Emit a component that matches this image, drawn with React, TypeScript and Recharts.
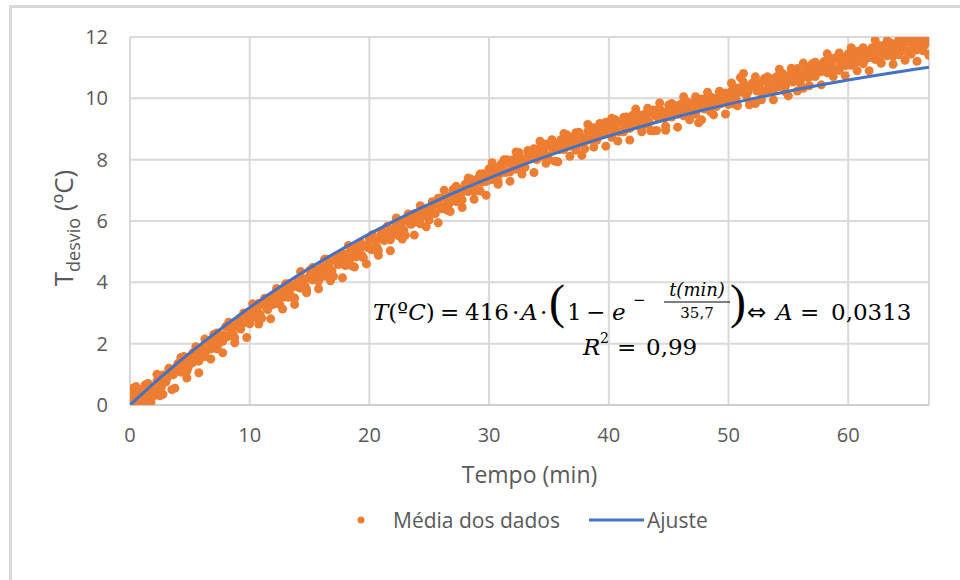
import React from "react";
import {
  ComposedChart,
  Scatter,
  XAxis,
  YAxis,
  CartesianGrid,
  Legend,
} from "recharts";

// Sampling grids of the averaged data (min)
const mediaStep = 0.25;
const mediaOffsetB = 0.125;
const mediaStepC = 0.5;
const mediaOffsetC = 0.25;

// "Média dos dados" – temperature deviation (ºC).
// Series A: readings at t = 0, 0.25, 0.5, ...
const mediaA0to10 = [
  0.3, 0.05, 0.6, 0.2, 0.5, 0.1, 0.7, 0.45,
  0.3, 0.78, 0.3, 0.98, 0.75, 1.18, 0.5, 1.18,
  1.35, 1.07, 1.58, 1.1, 1.5, 1.38, 1.9, 1.43,
  1.85, 1.58, 2.1, 1.83, 2.3, 1.83, 2.2, 2.08,
  2.55, 2.26, 2.58, 2.19, 2.75, 2.48, 3.0, 2.73,
];
const mediaA10to20 = [
  2.65, 3.12, 2.89, 3.31, 2.83, 3.29, 3.11, 3.53,
  3.3, 3.71, 3.28, 3.74, 3.95, 3.51, 3.83, 3.49,
  4.1, 3.81, 4.11, 3.77, 4.38, 4.08, 4.39, 4.04,
  4.5, 4.2, 4.75, 4.4, 4.2, 4.8, 4.6, 4.95,
  4.55, 4.95, 4.55, 5.15, 4.85, 5.2, 4.8, 5.2,
];
const mediaA20to30 = [
  5.4, 5.06, 5.38, 5.04, 5.6, 5.36, 5.83, 5.39,
  5.55, 5.91, 5.51, 5.97, 5.53, 6.18, 5.89, 6.24,
  6.25, 5.91, 6.41, 6.17, 6.03, 6.48, 6.24, 6.74,
  6.4, 6.81, 6.36, 6.82, 7.03, 6.63, 6.94, 6.69,
  7.2, 6.96, 7.36, 6.97, 7.33, 6.98, 7.54, 7.29,
];
const mediaA30to40 = [
  7.7, 7.35, 7.65, 7.3, 7.85, 7.6, 8.0, 7.6,
  8.0, 7.69, 8.23, 7.86, 7.75, 8.24, 8.03, 8.36,
  8.0, 8.39, 8.13, 8.51, 8.0, 8.49, 7.95, 8.51,
  8.65, 8.33, 8.81, 8.44, 8.73, 8.31, 8.89, 8.62,
  8.35, 8.93, 8.66, 9.04, 8.63, 9.01, 8.84, 9.22,
];
const mediaA40to50 = [
  9.15, 8.73, 9.31, 8.94, 9.23, 8.91, 9.39, 9.02,
  9.45, 9.13, 9.46, 8.99, 9.48, 9.16, 8.94, 9.62,
  8.95, 9.67, 9.39, 8.96, 9.78, 9.39, 9.76, 9.48,
  9.8, 9.43, 9.9, 9.58, 9.85, 9.48, 9.2, 9.98,
  9.65, 10.03, 9.56, 9.99, 9.73, 10.21, 9.89, 10.17,
];
const mediaA50to60 = [
  9.8, 10.23, 9.81, 10.34, 10.68, 10.81, 10.09, 9.82,
  10.5, 9.83, 10.5, 10.18, 10.65, 10.28, 10.65, 10.23,
  10.7, 10.38, 10.81, 10.39, 10.08, 10.86, 10.59, 10.97,
  10.5, 10.33, 11.01, 10.69, 11.13, 10.71, 11.09, 10.87,
  11.2, 10.83, 11.31, 10.99, 11.33, 10.91, 11.34, 11.07,
];
const mediaA60toEnd = [
  11.45, 11.08, 11.55, 11.18, 11.55, 11.13, 11.55, 11.33,
  11.65, 11.27, 11.74, 11.16, 11.73, 11.39, 11.81, 11.38,
  11.8, 11.42, 11.89, 11.56, 11.88, 11.44, 11.91, 11.58,
  11.95, 11.55, 11.85, 11.4,
];

// Series B: readings at t = 0.125, 0.375, ... (band core)
const mediaB0to10 = [
  0.28, 0.18, 0.43, 0.23, 0.43, 0.28, 0.58, 0.53,
  0.49, 0.77, 0.59, 0.87, 0.89, 1.12, 0.99, 1.22,
  1.24, 1.15, 1.42, 1.23, 1.59, 1.47, 1.69, 1.57,
  1.84, 1.77, 2.04, 1.87, 2.09, 1.97, 2.29, 2.27,
  2.23, 2.5, 2.31, 2.57, 2.59, 2.82, 2.69, 2.92,
];
const mediaB10to20 = [
  2.94, 2.86, 3.13, 2.95, 3.31, 3.18, 3.4, 3.27,
  3.53, 3.45, 3.71, 3.52, 3.73, 3.6, 3.91, 3.87,
  3.83, 4.09, 3.89, 4.15, 4.16, 4.36, 4.22, 4.42,
  4.43, 4.33, 4.58, 4.38, 4.73, 4.58, 4.78, 4.63,
  4.88, 4.78, 5.03, 4.83, 5.03, 4.88, 5.18, 5.13,
];
const mediaB20to30 = [
  5.08, 5.35, 5.16, 5.42, 5.43, 5.65, 5.51, 5.72,
  5.73, 5.64, 5.89, 5.7, 6.06, 5.91, 6.12, 5.97,
  6.23, 6.14, 6.39, 6.2, 6.41, 6.26, 6.57, 6.52,
  6.48, 6.74, 6.54, 6.8, 6.81, 7.01, 6.87, 7.07,
  7.08, 6.99, 7.24, 7.05, 7.41, 7.26, 7.47, 7.32,
];
const mediaB30to40 = [
  7.58, 7.48, 7.73, 7.53, 7.73, 7.58, 7.88, 7.83,
  7.77, 8.01, 7.8, 8.03, 8.02, 8.21, 8.05, 8.23,
  8.22, 8.11, 8.35, 8.13, 8.47, 8.31, 8.5, 8.33,
  8.57, 8.45, 8.68, 8.46, 8.65, 8.48, 8.76, 8.69,
  8.62, 8.85, 8.63, 8.86, 8.85, 9.03, 8.86, 9.04,
];
const mediaB40to50 = [
  9.02, 8.9, 9.13, 8.91, 9.25, 9.08, 9.26, 9.09,
  9.32, 9.2, 9.43, 9.21, 9.4, 9.23, 9.51, 9.44,
  9.36, 9.58, 9.35, 9.57, 9.54, 9.7, 9.52, 9.69,
  9.67, 9.54, 9.77, 9.54, 9.87, 9.69, 9.87, 9.69,
  9.92, 9.8, 10.03, 9.81, 10.0, 9.83, 10.11, 10.04,
];
const mediaB50to60 = [
  9.97, 10.2, 9.98, 10.21, 10.2, 10.38, 10.21, 10.39,
  10.37, 10.24, 10.47, 10.24, 10.57, 10.39, 10.57, 10.39,
  10.62, 10.5, 10.73, 10.51, 10.7, 10.53, 10.81, 10.74,
  10.67, 10.9, 10.68, 10.91, 10.9, 11.08, 10.91, 11.09,
  11.07, 10.95, 11.18, 10.96, 11.3, 11.13, 11.31, 11.14,
];
const mediaB60toEnd = [
  11.37, 11.24, 11.47, 11.24, 11.42, 11.24, 11.52, 11.44,
  11.36, 11.58, 11.35, 11.57, 11.54, 11.7, 11.52, 11.69,
  11.66, 11.53, 11.75, 11.52, 11.84, 11.65, 11.82, 11.64,
  11.86, 11.73, 11.94,
];

// Series C: band edge readings at t = 0.25, 0.75, 1.25, ...
const mediaC0to20 = [
  0.55, 0.02, 0.65, 0.08, 1.0, 0.35, 1.2, 0.55,
  1.55, 0.88, 1.7, 1.05, 2.15, 1.5, 2.35, 1.7,
  2.7, 2.03, 2.85, 2.2, 3.3, 2.64, 3.48, 2.81,
  3.8, 3.13, 3.95, 3.28, 4.35, 3.66, 4.48, 3.79,
  4.75, 4.05, 4.85, 4.15, 5.2, 4.5, 5.3, 4.6,
];
const mediaC20to40 = [
  5.55, 4.88, 5.7, 5.03, 6.1, 5.41, 6.23, 5.54,
  6.5, 5.81, 6.63, 5.94, 7.0, 6.31, 7.13, 6.44,
  7.4, 6.71, 7.53, 6.84, 7.9, 7.2, 8.0, 7.3,
  8.25, 7.53, 8.3, 7.58, 8.6, 7.88, 8.65, 7.93,
  8.85, 8.11, 8.88, 8.14, 9.15, 8.41, 9.18, 8.44,
];
const mediaC40to60 = [
  9.35, 8.61, 9.38, 8.64, 9.65, 8.91, 9.68, 8.94,
  9.85, 9.09, 9.83, 9.06, 10.05, 9.3, 10.05, 9.3,
  10.2, 9.46, 10.23, 9.49, 10.5, 9.76, 10.53, 9.79,
  10.7, 9.95, 10.7, 9.95, 10.95, 10.21, 10.98, 10.24,
  11.15, 10.41, 11.18, 10.44, 11.45, 10.71, 11.48, 10.74,
];
const mediaC60toEnd = [
  11.65, 10.9, 11.65, 10.9, 11.9, 11.14, 11.88, 11.11,
  12.0, 11.24, 11.98, 11.21, 11.98, 11.43,
];

// "Ajuste" – fitted curve, read every 2 min
const ajusteTempo = [
  0, 2, 4, 6, 8, 10, 12, 14, 16, 18, 20, 22, 24, 26, 28, 30, 32, 34,
  36, 38, 40, 42, 44, 46, 48, 50, 52, 54, 56, 58, 60, 62, 64, 66, 66.75,
];
const ajusteValores = [
  0, 0.71, 1.38, 2.01, 2.61, 3.18, 3.72, 4.22, 4.7, 5.15, 5.58, 5.99, 6.37,
  6.73, 7.08, 7.4, 7.71, 8.0, 8.27, 8.53, 8.77, 9.0, 9.22, 9.43, 9.63, 9.81,
  9.99, 10.15, 10.31, 10.46, 10.6, 10.73, 10.85, 10.97, 11.01,
];

const xTicks = [0, 10, 20, 30, 40, 50, 60];
const yTicks = [0, 2, 4, 6, 8, 10, 12];
const xMax = 66.75;

const mediaA = [
  ...mediaA0to10, ...mediaA10to20, ...mediaA20to30, ...mediaA30to40,
  ...mediaA40to50, ...mediaA50to60, ...mediaA60toEnd,
];
const mediaB = [
  ...mediaB0to10, ...mediaB10to20, ...mediaB20to30, ...mediaB30to40,
  ...mediaB40to50, ...mediaB50to60, ...mediaB60toEnd,
];
const mediaC = [...mediaC0to20, ...mediaC20to40, ...mediaC40to60, ...mediaC60toEnd];
const mediaData = [
  ...mediaC.map((v, i) => ({ t: i * mediaStepC + mediaOffsetC, v })),
  ...mediaA.map((v, i) => ({ t: i * mediaStep, v })),
  ...mediaB.map((v, i) => ({ t: i * mediaStep + mediaOffsetB, v })),
];
const ajusteData = ajusteTempo.map((t, i) => ({ t, v: ajusteValores[i] }));

const ORANGE = "#ED7D31";
const BLUE = "#4472C4";
const TEXT = "#595959";
const GRID = "#d9d9d9";
const FONT = "'Open Sans', sans-serif";
const MATH = "'DejaVu Serif', 'Liberation Serif', serif";
const PAREN = "'Liberation Serif', serif";

const Dot = (props: any) => {
  const { cx, cy } = props;
  if (cx == null || cy == null) return null;
  return <circle cx={cx} cy={cy} r={4.5} fill={ORANGE} />;
};
const NoDot = () => <g />;

const LegendContent = () => (
  <div
    style={{
      position: "relative",
      height: 30,
      width: 960,
      fontFamily: FONT,
      fontSize: 21,
      color: TEXT,
      lineHeight: "30px",
    }}
  >
    <svg width={14} height={14} style={{ position: "absolute", left: 354, top: 8 }}>
      <circle cx={7} cy={7} r={3.5} fill={ORANGE} />
    </svg>
    <span style={{ position: "absolute", left: 393, top: 0, whiteSpace: "nowrap" }}>
      Média dos dados
    </span>
    <svg width={56} height={10} style={{ position: "absolute", left: 589, top: 10 }}>
      <line x1={0} y1={5} x2={55} y2={5} stroke={BLUE} strokeWidth={3} />
    </svg>
    <span style={{ position: "absolute", left: 647, top: 0 }}>Ajuste</span>
  </div>
);

const YTitle = () => (
  <text
    transform="translate(73, 228) rotate(-90)"
    textAnchor="middle"
    fontFamily={FONT}
    fontSize={26}
    fill={TEXT}
  >
    <tspan>T</tspan>
    <tspan fontSize={18} dy={7}>desvio</tspan>
    <tspan dy={-7}> (ºC)</tspan>
  </text>
);

const Equation = () => (
  <g fontFamily={MATH} fill="#000" fontSize={23}>
    <text x={373} y={320}>
      <tspan fontStyle="italic">T</tspan>
      <tspan>(º</tspan>
      <tspan fontStyle="italic">C</tspan>
      <tspan>)</tspan>
    </text>
    <text x={440} y={320}>=</text>
    <text x={465} y={320}>416</text>
    <text x={512} y={320}>·</text>
    <text x={521} y={320} fontStyle="italic">A</text>
    <text x={540} y={320}>·</text>
    <text x={549} y={318} fontSize={48} fontFamily={PAREN}>(</text>
    <text x={567} y={320}>1</text>
    <text x={586} y={320}>−</text>
    <text x={612} y={320} fontStyle="italic">e</text>
    <text x={633} y={305} fontSize={15}>−</text>
    <text x={697} y={296} fontSize={18} textAnchor="middle" fontStyle="italic">
      t(min)
    </text>
    <line x1={664} y1={302} x2={730} y2={302} stroke="#000" strokeWidth={1.2} />
    <text x={697} y={318} fontSize={15} textAnchor="middle">35,7</text>
    <text x={730} y={318} fontSize={48} fontFamily={PAREN}>)</text>
    <text x={747} y={320} fontFamily="'DejaVu Sans', sans-serif" fontSize={23}>⇔</text>
    <text x={776} y={320} fontStyle="italic">A</text>
    <text x={800} y={320}>=</text>
    <text x={831} y={320}>0,0313</text>
    <text x={583} y={355} fontStyle="italic">R</text>
    <text x={600} y={343} fontSize={14}>2</text>
    <text x={617} y={355}>=</text>
    <text x={646} y={355}>0,99</text>
  </g>
);

export default function App() {
  return (
    <div
      style={{
        position: "absolute",
        left: 0,
        top: 0,
        width: 960,
        height: 580,
        overflow: "hidden",
        background: "#fff",
      }}
    >
      <div
        style={{
          position: "absolute",
          left: 9,
          top: 5,
          width: 1000,
          height: 700,
          borderTop: `3px solid ${GRID}`,
          borderLeft: `3px solid ${GRID}`,
        }}
      />
      <div style={{ position: "absolute", left: 0, top: 0 }}>
        <ComposedChart
          width={960}
          height={580}
          margin={{ top: 37, right: 31, left: 0, bottom: 65 }}
        >
          <CartesianGrid stroke={GRID} strokeWidth={2} />
          <XAxis
            dataKey="t"
            type="number"
            domain={[0, xMax]}
            ticks={xTicks}
            allowDataOverflow
            height={80}
            tickSize={0}
            tickMargin={23}
            tick={{ fill: TEXT, fontSize: 20, fontFamily: FONT }}
            axisLine={{ stroke: "#cfcfcf", strokeWidth: 2 }}
            label={{
              value: "Tempo (min)",
              position: "insideBottom",
              offset: 2,
              fill: TEXT,
              fontSize: 23,
              fontFamily: FONT,
            }}
          />
          <YAxis
            dataKey="v"
            type="number"
            domain={[0, 12]}
            ticks={yTicks}
            allowDataOverflow
            width={130}
            tickSize={0}
            tickMargin={22}
            axisLine={false}
            tick={{ fill: TEXT, fontSize: 20, fontFamily: FONT }}
          />
          <Scatter
            name="Média dos dados"
            data={mediaData}
            dataKey="v"
            fill={ORANGE}
            shape={Dot}
            isAnimationActive={false}
          />
          <Scatter
            name="Ajuste"
            data={ajusteData}
            dataKey="v"
            fill={BLUE}
            line={{ stroke: BLUE, strokeWidth: 3, fill: "none" }}
            lineType="joint"
            shape={NoDot}
            isAnimationActive={false}
          />
          <Legend
            verticalAlign="bottom"
            content={<LegendContent />}
            wrapperStyle={{ left: 0, width: 960, top: 505 }}
          />
        </ComposedChart>
      </div>
      <svg
        width={960}
        height={580}
        style={{ position: "absolute", left: 0, top: 0, pointerEvents: "none" }}
      >
        <YTitle />
        <Equation />
      </svg>
    </div>
  );
}
